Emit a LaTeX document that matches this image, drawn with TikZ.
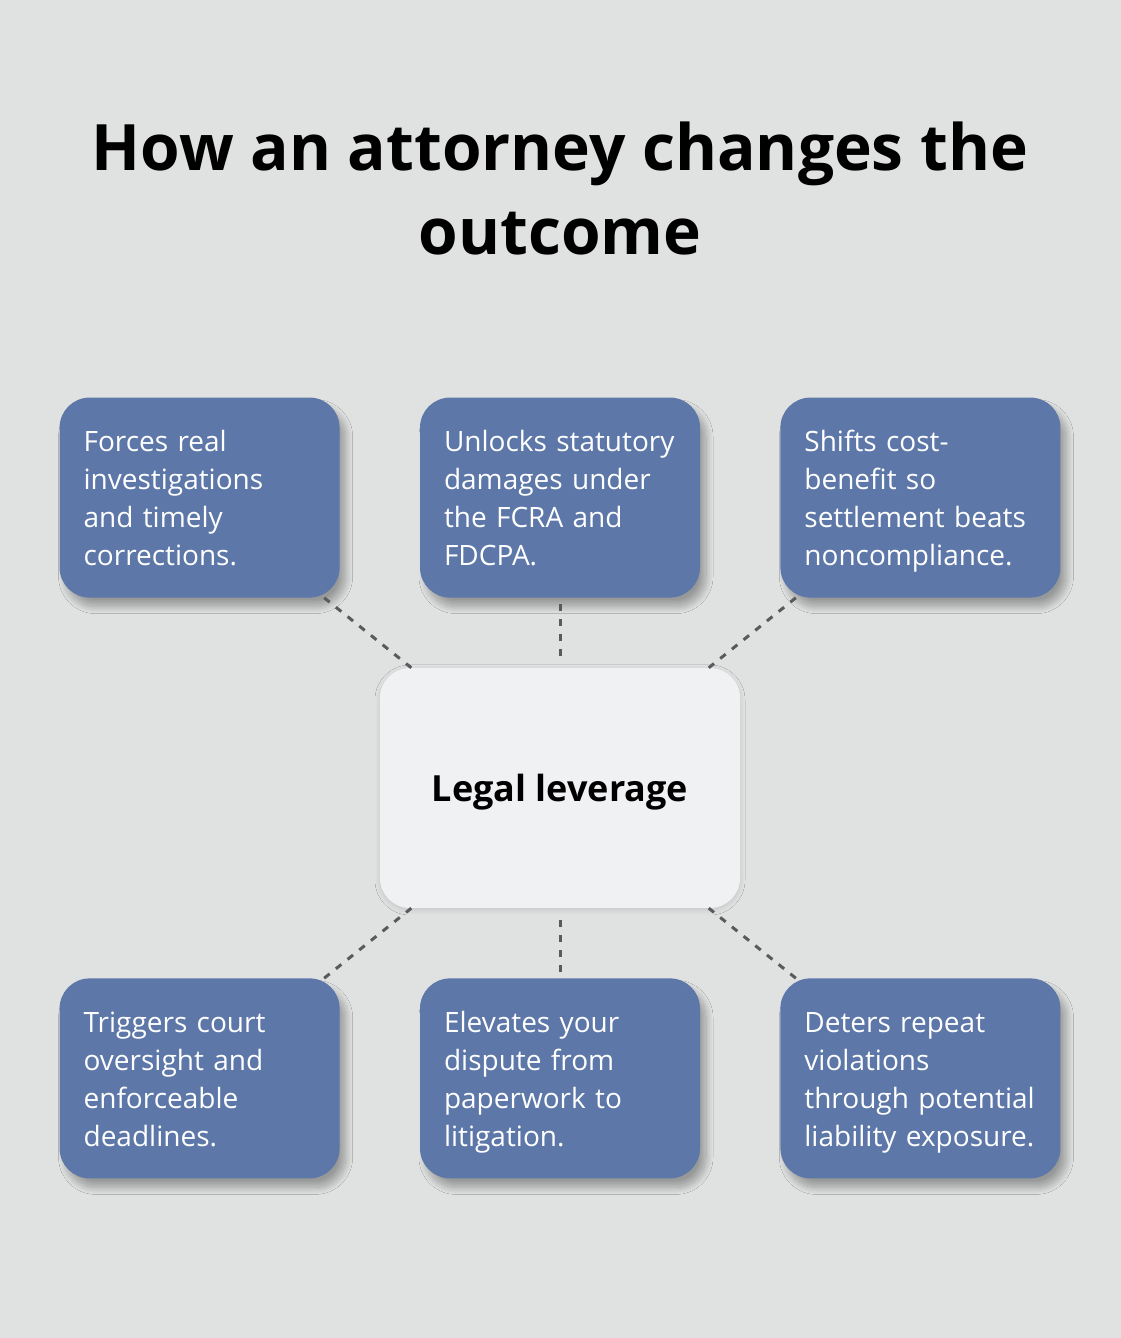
\documentclass[tikz,border=0pt]{standalone}
\usepackage{fontspec}
\setmainfont{Open Sans}
\usetikzlibrary{positioning, shadows.blur}
\definecolor{lvbg}{HTML}{E0E2E1}
\definecolor{lvblue}{HTML}{5C77A8}
\definecolor{lvhub}{HTML}{F0F1F3}
\definecolor{lvline}{HTML}{5A5A5A}

\begin{document}
\begin{tikzpicture}[x=1pt, y=1pt,
    effect/.style={rectangle, rounded corners=30pt, fill=#1, draw=none,
                   blur shadow={shadow xshift=6pt, shadow yshift=-9pt,
                                shadow blur radius=7pt, shadow blur steps=14,
                                shadow opacity=32}},
    effect/.default=lvblue,
    hub/.style={rectangle, rounded corners=30pt, fill=lvhub, draw=none,
                minimum width=360pt, minimum height=240pt, align=center,
                text depth=0pt, font=\fontsize{36}{44}\selectfont\bfseries,
                blur shadow={shadow xshift=0pt, shadow yshift=-2pt,
                             shadow blur radius=5pt, shadow blur steps=10,
                             shadow opacity=12}},
    link/.style={lvline, line width=3pt, dash pattern=on 7pt off 8pt},
    title/.style={align=center, font=\fontsize{64}{84}\selectfont\bfseries}
  ]
    \useasboundingbox (0,0) rectangle (1120,1338);
    \fill[lvbg] (-5,-5) rectangle (1125,1343);

    \tikzset{effect/.append style={text=white, align=left, text width=232pt,
             inner xsep=24pt, minimum height=200pt,
             font=\fontsize{28}{38}\selectfont,
             execute at begin node={\rule{0pt}{34pt}}, execute at end node=\strut}}

    \node[title, anchor=base] (heading) at (560,1083) {How an attorney changes the\\outcome};

    \node[hub] (leverage) at (560,550) {Legal leverage};

    \node[effect, above=70pt of leverage] (statutory) {Unlocks statutory\\damages under\\the FCRA and\\FDCPA.};
    \node[effect, left=80pt of statutory] (investig) {Forces real\\investigations\\and timely\\corrections.};
    \node[effect, right=80pt of statutory] (costbenefit) {Shifts cost-\\benefit so\\settlement beats\\noncompliance.};

    \node[effect, below=70pt of leverage] (litigation) {Elevates your\\dispute from\\paperwork to\\litigation.};
    \node[effect, left=80pt of litigation] (oversight) {Triggers court\\oversight and\\enforceable\\deadlines.};
    \node[effect, right=80pt of litigation] (deters) {Deters repeat\\violations\\through potential\\liability exposure.};

    \draw[link] (investig) -- (leverage);
    \draw[link, shorten <=6pt, shorten >=8pt] (statutory) -- (leverage);
    \draw[link] (costbenefit) -- (leverage);
    \draw[link] (oversight) -- (leverage);
    \draw[link, shorten <=6pt, shorten >=6pt] (litigation) -- (leverage);
    \draw[link] (deters) -- (leverage);
\end{tikzpicture}
\end{document}
